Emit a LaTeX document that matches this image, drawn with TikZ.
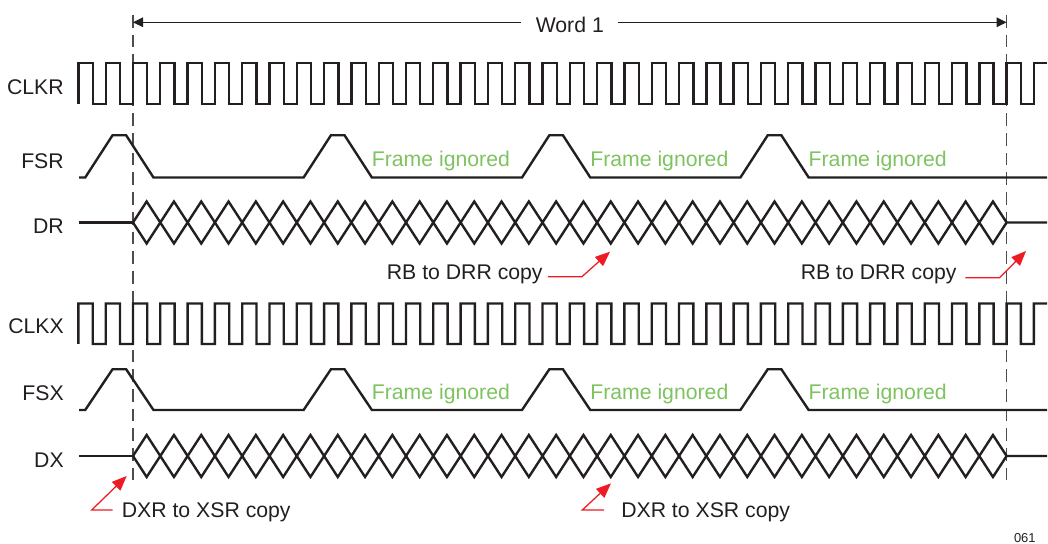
\documentclass[tikz,border=0pt]{standalone}
\usepackage{fontspec}
\setmainfont{Liberation Sans}
\usepackage{xcolor}
\usepackage{tikz}
\usetikzlibrary{arrows.meta,positioning,calc}

\definecolor{inkgray}{RGB}{35,31,32}
\definecolor{ignoregreen}{RGB}{125,195,95}
\definecolor{copyred}{RGB}{237,28,36}

\begin{document}
\begin{tikzpicture}[
    x=0.025cm, y=-0.025cm,
    font=\fontsize{15.1}{18}\selectfont,
    wave/.style={draw=inkgray, line width=1.7pt},
    guide/.style={draw=inkgray!80, line width=0.9pt, dash pattern=on 9pt off 5pt},
    sig/.style={anchor=east, inner sep=0pt, text=inkgray},
    ignored/.style={anchor=base west, inner sep=0pt, text=ignoregreen},
    note/.style={anchor=base west, inner sep=0pt, text=inkgray},
    copyarrow/.style={draw=copyred, line width=0.9pt, -{Triangle[length=3.7mm, width=3mm]}},
    wordarrow/.style={draw=inkgray, line width=0.7pt, {Triangle[length=2.5mm, width=2.4mm]}-{Triangle[length=2.5mm, width=2.4mm]}}
]
\useasboundingbox (0,0) rectangle (1048,544);
\def\per{27.3}

% Word boundaries
\coordinate (wstartTop) at (133,15);
\coordinate (wstartBot) at (133,481);
\coordinate (wendTop) at (1006.6,15);
\coordinate (wendBot) at (1006.6,481);
\draw[guide] (wstartTop) -- (wstartBot);
\draw[guide] (wendTop) -- (wendBot);

% Word 1
\coordinate (wordL) at (133,22.3);
\coordinate (wordR) at (1006.6,22.3);
\draw[wordarrow] (wordL) -- (wordR);
\node[fill=white, inner xsep=0.36cm, inner ysep=2pt, text=inkgray] (word) at (569.8,24.5) {Word 1};

% Receive side: CLKR
\node[sig] (clkr) at (64,87) {CLKR};
\draw[wave] (78.4,104) \foreach \k in {-2,...,32} { -- ++(0,-41) -- ++(14.3,0) -- ++(0,41) -- ++(13,0) } -- ++(0,-41) -- (1047,63);

% FSR
\node[sig] (fsr) at (64,161) {FSR};
\draw[wave] (79,177.5) \foreach \k in {0,...,3} { -- ({133+(8*\k-1.75)*\per},177.5) -- ({133+(8*\k-0.75)*\per},135.3) -- ({133+(8*\k-0.25)*\per},135.3) -- ({133+(8*\k+0.75)*\per},177.5) } -- (1047,177.5);
\foreach \k in {1,2,3}
    \node[ignored] (fsrign\k) at ({371.6+(\k-1)*8*\per},167) {Frame ignored};

% DR
\node[sig] (dr) at (64,226) {DR};
\draw[wave] (79,222.5) -- (133,222.5);
\draw[wave] (133,222.5) \foreach \k in {1,...,32} { -- ++(\per/2,-21) -- ++(\per/2,21) };
\draw[wave] (133,222.5) \foreach \k in {1,...,32} { -- ++(\per/2,21) -- ++(\per/2,-21) } -- (1047,222.5);

% RB to DRR copies
\node[note] (rbA) at (386.6,279.3) {RB to DRR copy};
\coordinate (rbAtip) at (610,251.7);
\draw[copyarrow] ($(rbA.base east)+(5,-2.6)$) -- ++(34,0) -- (rbAtip);
\node[note] (rbB) at (800.5,279.3) {RB to DRR copy};
\coordinate (rbBtip) at (1026,251);
\draw[copyarrow] ($(rbB.base east)+(8.5,-1.6)$) -- ++(34.3,0) -- (rbBtip);

% Transmit side: CLKX
\node[sig] (clkx) at (64,326) {CLKX};
\draw[wave] (78.4,344) \foreach \k in {-2,...,32} { -- ++(0,-40.5) -- ++(14.3,0) -- ++(0,40.5) -- ++(13,0) } -- ++(0,-40.5) -- (1047,303.5);

% FSX
\node[sig] (fsx) at (64,393) {FSX};
\draw[wave] (79,410) \foreach \k in {0,...,3} { -- ({133+(8*\k-1.75)*\per},410) -- ({133+(8*\k-0.75)*\per},369.3) -- ({133+(8*\k-0.25)*\per},369.3) -- ({133+(8*\k+0.75)*\per},410) } -- (1047,410);
\foreach \k in {1,2,3}
    \node[ignored] (fsxign\k) at ({371.6+(\k-1)*8*\per},400) {Frame ignored};

% DX
\node[sig] (dx) at (64,460) {DX};
\draw[wave] (79,456) -- (133,456);
\draw[wave] (133,456) \foreach \k in {1,...,32} { -- ++(\per/2,-21) -- ++(\per/2,21) };
\draw[wave] (133,456) \foreach \k in {1,...,32} { -- ++(\per/2,21) -- ++(\per/2,-21) } -- (1047,456);

% DXR to XSR copies
\node[note] (dxA) at (121.6,518) {DXR to XSR copy};
\coordinate (dxAbend) at (91.7,510);
\coordinate (dxAtip) at (126.7,476);
\draw[copyarrow] ($(dxA.base west)+(-8.9,-8)$) -- (dxAbend) -- (dxAtip);
\node[note] (dxB) at (621,518) {DXR to XSR copy};
\coordinate (dxBbend) at (582.3,510);
\coordinate (dxBtip) at (611,483.3);
\draw[copyarrow] ($(dxB.base west)+(-17,-8)$) -- (dxBbend) -- (dxBtip);

% Figure number
\node[inner sep=0pt, font=\fontsize{9.2}{11}\selectfont, text=inkgray] (fignum) at (1024.8,538.3) {061};

\end{tikzpicture}
\end{document}
